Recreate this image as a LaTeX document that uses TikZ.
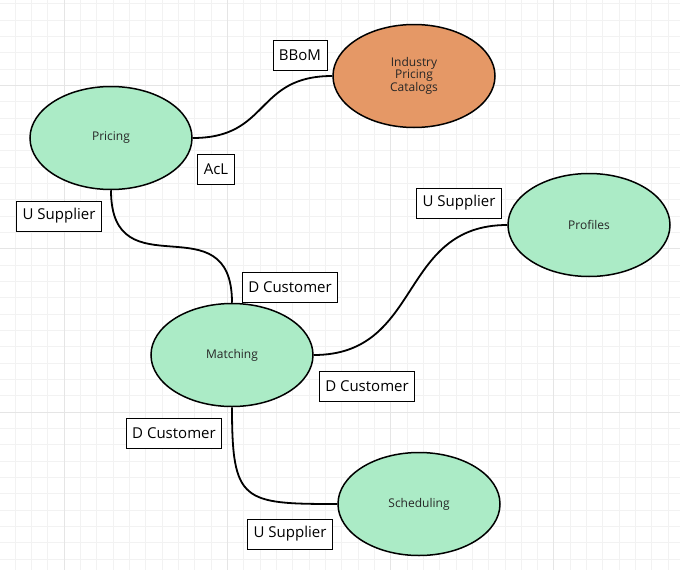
\documentclass[tikz,border=0pt]{standalone}
\usepackage{fontspec}
\setmainfont{Open Sans}
\usetikzlibrary{shapes.geometric}
\definecolor{ctxgreen}{RGB}{171,235,198}
\definecolor{ctxorange}{RGB}{229,152,102}

\begin{document}
\begin{tikzpicture}[x=1pt, y=1pt,
        minorline/.style = {black!5, line width=0.8pt},
        majorline/.style = {black!10, line width=0.9pt},
        context/.style = {ellipse, draw, line width=1.5pt, fill=ctxgreen, minimum width=162pt, minimum height=103pt,
            align=center, text=black!85, font=\fontsize{12}{11.8}\selectfont},
        rel/.style = {draw, line width=0.8pt, fill=white, minimum height=30pt, inner xsep=6pt,
            font=\fontsize{15}{18}\selectfont},
        link/.style = {line width=1.8pt}]
        \useasboundingbox (0,0) rectangle (680,-570);
        
        % background grid
        \foreach \i in {0,...,40} \draw[minorline] ({15+16.33*\i},0) -- ({15+16.33*\i},-570);
        \foreach \j in {0,...,34} \draw[minorline] (0,{-3.75-16.33*\j}) -- (680,{-3.75-16.33*\j});
        \foreach \i in {3,13,23,33} \draw[majorline] ({15+16.33*\i},0) -- ({15+16.33*\i},-570);
        \foreach \j in {5,15,25} \draw[majorline] (0,{-3.75-16.33*\j}) -- (680,{-3.75-16.33*\j});
        
        % bounded contexts
        \node[context] (pricing) at (111,-138) {Pricing};
        \node[context, fill=ctxorange] (catalogs) at (414,-76) {Industry\\Pricing\\Catalogs};
        \node[context] (profiles) at (589,-225) {Profiles};
        \node[context] (matching) at (232,-355) {Matching};
        \node[context] (scheduling) at (419,-504) {Scheduling};
        
        % relations
        \draw[link] (pricing.east) to[out=0, in=180, looseness=1.3] (catalogs.west);
        \draw[link] (pricing.south) to[out=-90, in=90, looseness=1.6] (matching.north);
        \draw[link] (matching.east) to[out=0, in=180, looseness=1.2] (profiles.west);
        \draw[link] (matching.south) to[out=-90, in=180, looseness=1.7] (scheduling.west);
        
        \node[rel] (bbom) at (300,-55) {BBoM};
        \node[rel] (acl) at (216,-169) {AcL};
        \node[rel] (pricingsup) at (59,-216) {U Supplier};
        \node[rel] (matchingcus) at (290,-287) {D Customer};
        \node[rel] (profilessup) at (459,-203) {U Supplier};
        \node[rel] (matchingcus2) at (367,-386) {D Customer};
        \node[rel] (matchingcus3) at (174,-433) {D Customer};
        \node[rel] (schedulingsup) at (290,-534) {U Supplier};
    \end{tikzpicture}
\end{document}
